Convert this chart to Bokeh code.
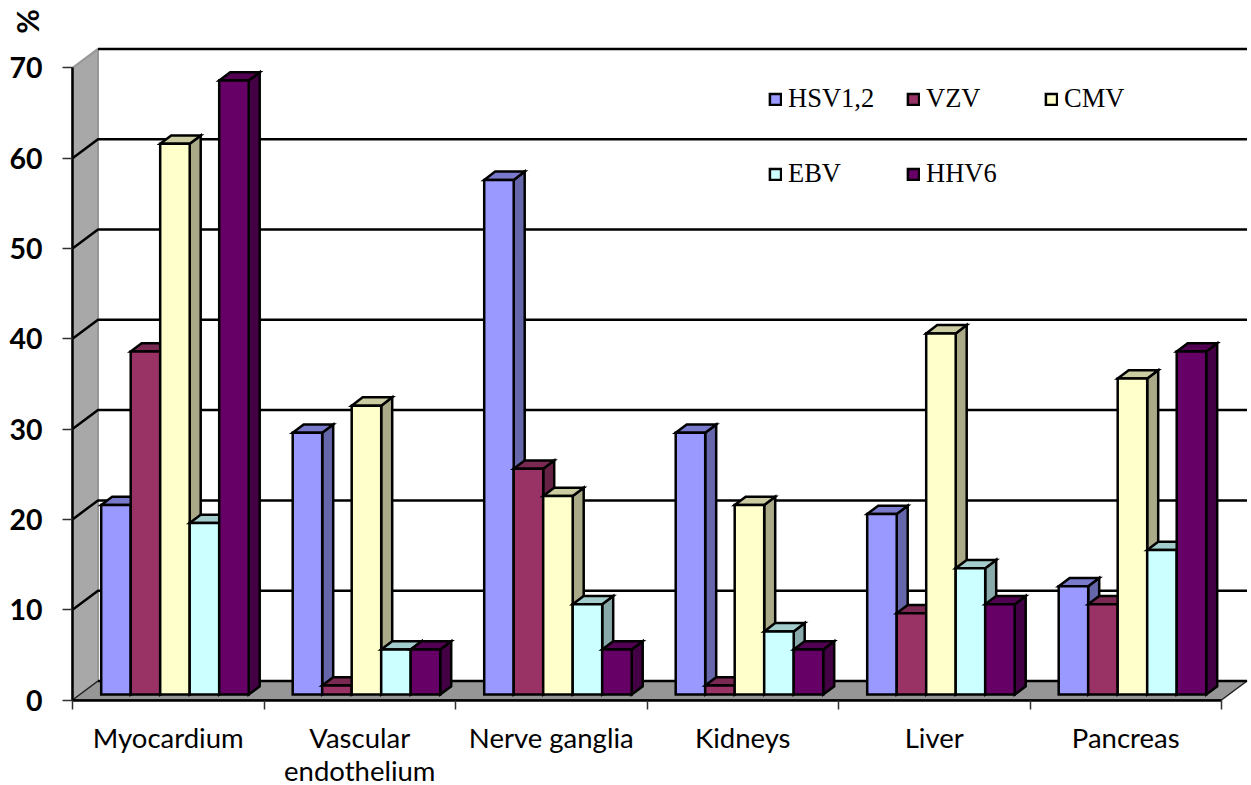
from math import pi
from bokeh.plotting import figure
from bokeh.models import (FixedTicker, Label, Legend, LegendItem, LinearAxis, Range1d)
from bokeh.embed import file_html
from bokeh.resources import INLINE

categories = ["Myocardium", "Vascular\nendothelium", "Nerve ganglia", "Kidneys", "Liver", "Pancreas"]
series_names = ["HSV1,2", "VZV", "CMV", "EBV", "HHV6"]
hsv = [21, 29, 57, 29, 20, 12]
vzv = [38, 1, 25, 1, 9, 10]
cmv = [61, 32, 22, 21, 40, 35]
ebv = [19, 5, 10, 7, 14, 16]
hhv6 = [68, 5, 5, 5, 10, 38]
y_ticks = [0, 10, 20, 30, 40, 50, 60, 70]

front_cols = ["#9999ff", "#993366", "#ffffcc", "#ccffff", "#660066"]
top_cols = ["#7a7acc", "#7a2952", "#ccccA3", "#a3cccc", "#520052"]
side_cols = ["#6666aa", "#662244", "#aaaa88", "#88aaaa", "#440044"]

# scale: pixels per data unit; the frame fills the whole canvas
PX_X = 191.5
PX_Y = 9.03
W, H = 1251, 785
ORIGIN_X, ORIGIN_Y = 72, 699.5           # where x=0 and y=0 fall on the canvas

DX, DY = 25.5 / PX_X, 19 / PX_Y          # depth of the chart box
BAR_DX, BAR_DY = 11 / PX_X, 8.3 / PX_Y   # depth of a bar
BAR_W = 29.5 / PX_X
BAR_START = 28.7 / PX_X
BASE = 5.4 / PX_Y
AXIS_Y = -0.5 / PX_Y

p = figure(frame_width=W, frame_height=H, output_backend="svg", toolbar_location=None,
           x_range=Range1d(-ORIGIN_X / PX_X, (W - ORIGIN_X) / PX_X),
           y_range=Range1d(-(H - ORIGIN_Y) / PX_Y, ORIGIN_Y / PX_Y),
           x_axis_type=None, y_axis_type=None,
           min_border=0, outline_line_color=None,
           background_fill_color="white", border_fill_color="white")
p.grid.visible = False

n = len(categories)

# side wall and floor
p.patch([0, DX, DX, 0], [0, DY, 70 + DY, 70], fill_color="#a8a8a8", line_color="#989898", line_width=2)
p.patch([0, DX, n + DX, n], [0, DY, DY, 0], fill_color="#969696", line_color="#202020", line_width=1.5)

# gridlines
for v in y_ticks:
    xs = [0, DX, n + DX] if 0 < v < 70 else [DX, n + DX]
    ys = [v, v + DY, v + DY] if 0 < v < 70 else [v + DY, v + DY]
    p.line(xs, ys, line_color="black", line_width=2.5)

# bars
bar_items = []
for s, values in enumerate([hsv, vzv, cmv, ebv, hhv6]):
    x0 = [g + BAR_START + s * BAR_W for g in range(n)]
    x1 = [a + BAR_W for a in x0]
    b = BASE
    tops = [v + BASE for v in values]
    style = dict(line_color="black", line_width=2.5, line_join="miter")
    p.patches([[r, r + BAR_DX, r + BAR_DX, r] for r in x1],
              [[b, b + BAR_DY, t + BAR_DY, t] for t in tops],
              fill_color=side_cols[s], **style)
    p.patches([[l, l + BAR_DX, r + BAR_DX, r] for l, r in zip(x0, x1)],
              [[t, t + BAR_DY, t + BAR_DY, t] for t in tops],
              fill_color=top_cols[s], **style)
    fr = p.patches([[l, r, r, l] for l, r in zip(x0, x1)],
                   [[b, b, t, t] for t in tops],
                   fill_color=front_cols[s], **style)
    bar_items.append(LegendItem(label=series_names[s], renderers=[fr]))

# axes
yax = LinearAxis(ticker=FixedTicker(ticks=y_ticks, minor_ticks=[]), bounds=(AXIS_Y, 70), fixed_location=0)
yax.axis_line_color = "black"
yax.axis_line_width = 2.5
yax.major_tick_in = 0
yax.major_tick_out = 10
yax.major_tick_line_color = "#303030"
yax.major_tick_line_width = 1.5
yax.minor_tick_line_color = None
yax.major_label_standoff = 20
yax.major_label_text_font = "Lato"
yax.major_label_text_font_style = "bold"
yax.major_label_text_font_size = "28.5px"
yax.major_label_text_color = "black"
p.add_layout(yax, "left")

centers = [i + 0.5 for i in range(n)]
xax = LinearAxis(ticker=FixedTicker(ticks=centers, minor_ticks=list(range(n + 1))), bounds=(0, n),
                 fixed_location=AXIS_Y)
xax.major_label_overrides = {c: t for c, t in zip(centers, categories)}
xax.axis_line_color = "black"
xax.axis_line_width = 2.5
xax.major_tick_line_color = None
xax.major_tick_in = 0
xax.major_tick_out = 0
xax.minor_tick_line_color = "#303030"
xax.minor_tick_line_width = 1.5
xax.minor_tick_in = 0
xax.minor_tick_out = 9
xax.major_label_standoff = 11
xax.major_label_text_font = "Lato"
xax.major_label_text_font_size = "27.5px"
xax.major_label_text_line_height = 1.0
xax.major_label_text_color = "black"
p.add_layout(xax, "below")

# unit label
p.add_layout(Label(x=-46 / PX_X, y=(ORIGIN_Y - 21) / PX_Y, text="%", angle=pi / 2,
                   text_align="center", text_baseline="middle", text_font="Lato",
                   text_font_style="bold", text_font_size="30px", text_color="black"))

# legend: bokeh fills columns first, so the order here gives the reference's rows
legend_order = [0, 3, 1, 4, 2]
legend = Legend(items=[bar_items[i] for i in legend_order], ncols=3, location=(768, 574),
                background_fill_alpha=0, border_line_color=None,
                padding=0, margin=0, spacing=0,
                glyph_width=14, glyph_height=14, label_standoff=6,
                label_width=118, label_height=75,
                label_text_font="Liberation Serif", label_text_font_size="26.5px",
                label_text_color="black")
p.add_layout(legend, "center")

open("out.html", "w").write(file_html(p, INLINE))
